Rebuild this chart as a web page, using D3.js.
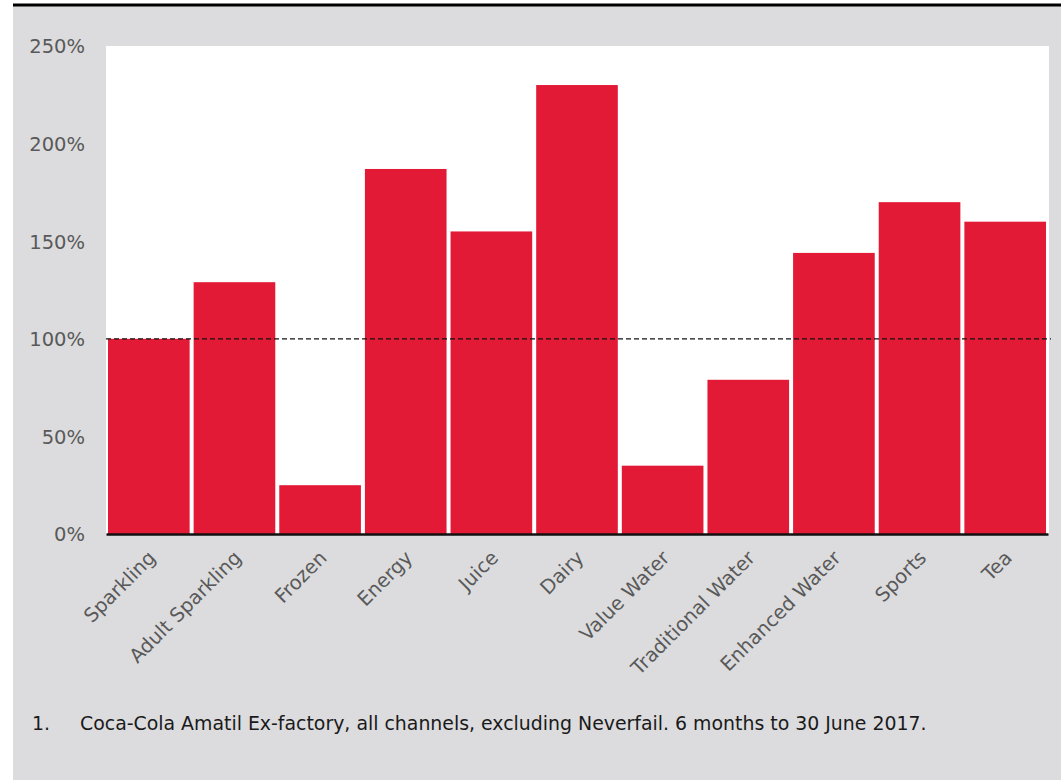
<!DOCTYPE html>
<html>
<head>
<meta charset="utf-8">
<script src="https://cdn.jsdelivr.net/npm/d3@7"></script>
<style>
  body { margin: 0; background: #fff; }
  svg { display: block; }
  .tick-label { font-family: "DejaVu Sans", Verdana, sans-serif; fill: #595959; }
</style>
</head>
<body>
<svg id="chart"></svg>
<script>
const categories = ["Sparkling", "Adult Sparkling", "Frozen", "Energy", "Juice", "Dairy",
  "Value Water", "Traditional Water", "Enhanced Water", "Sports", "Tea"];
const values = [100, 129, 25, 187, 155, 230, 35, 79, 144, 170, 160];
const yTicks = [0, 50, 100, 150, 200, 250];
const footnote = "Coca-Cola Amatil Ex-factory, all channels, excluding Neverfail. 6 months to 30 June 2017.";

const width = 1061;
const height = 783;
const margin = { top: 46, right: 13, bottom: 249, left: 106 };

const svg = d3.select("#chart")
  .attr("width", width)
  .attr("height", height);

// grey panel + black rule on top
svg.append("rect")
  .attr("x", 13).attr("y", 6)
  .attr("width", width - 13).attr("height", 774)
  .attr("fill", "#dcdcde");
svg.append("line")
  .attr("x1", 13).attr("x2", width)
  .attr("y1", 5).attr("y2", 5)
  .attr("stroke", "#000").attr("stroke-width", 3);

const plotW = width - margin.left - margin.right;
const plotH = height - margin.top - margin.bottom;

const g = svg.append("g")
  .attr("transform", `translate(${margin.left},${margin.top})`);

// white plot area
g.append("rect")
  .attr("width", plotW + 1).attr("height", plotH)
  .attr("fill", "#fff");

const xscale = d3.scaleBand().domain(categories).range([0, plotW]).padding(0);
const yscale = d3.scaleLinear().domain([0, 250]).range([plotH, 0]);

// bars
g.selectAll("rect.bar")
  .data(values)
  .join("rect")
  .attr("class", "bar")
  .attr("x", (d, i) => xscale(categories[i]) + 2)
  .attr("width", xscale.bandwidth() - 4)
  .attr("y", (d) => yscale(d))
  .attr("height", (d) => plotH - yscale(d))
  .attr("fill", "#e31a36");

// 100% reference line
g.append("line")
  .attr("x1", 0).attr("x2", plotW + 3)
  .attr("y1", yscale(100)).attr("y2", yscale(100))
  .attr("stroke", "#111").attr("stroke-width", 1.2)
  .attr("stroke-dasharray", "5,3");

// y axis labels
const yaxis = d3.axisLeft(yscale)
  .tickValues(yTicks)
  .tickFormat((d) => d + "%")
  .tickSize(0)
  .tickPadding(21);
const g_yaxis = g.append("g").call(yaxis);
g_yaxis.select(".domain").remove();
g_yaxis.selectAll("text")
  .attr("class", "tick-label")
  .style("font-size", "19.5px")
  .attr("dy", "0.35em");

// x axis
const xaxis = d3.axisBottom(xscale).tickSize(0).tickPadding(0);
const g_xaxis = g.append("g")
  .attr("transform", `translate(0,${plotH})`)
  .call(xaxis);
g_xaxis.select(".domain")
  .attr("stroke", "#111").attr("stroke-width", 2.5);
g_xaxis.selectAll("text")
  .attr("class", "tick-label")
  .style("font-size", "19.5px")
  .attr("text-anchor", "end")
  .attr("y", 0).attr("dy", 0)
  .attr("transform", "translate(8,25) rotate(-45)");

// footnote
const foot = svg.append("g")
  .style("font-family", "\"DejaVu Sans\", Verdana, sans-serif")
  .style("font-size", "18.9px")
  .attr("fill", "#1a1a1a");
foot.append("text").attr("x", 32).attr("y", 730).text("1.");
foot.append("text").attr("x", 80).attr("y", 730).text(footnote);
</script>
</body>
</html>
